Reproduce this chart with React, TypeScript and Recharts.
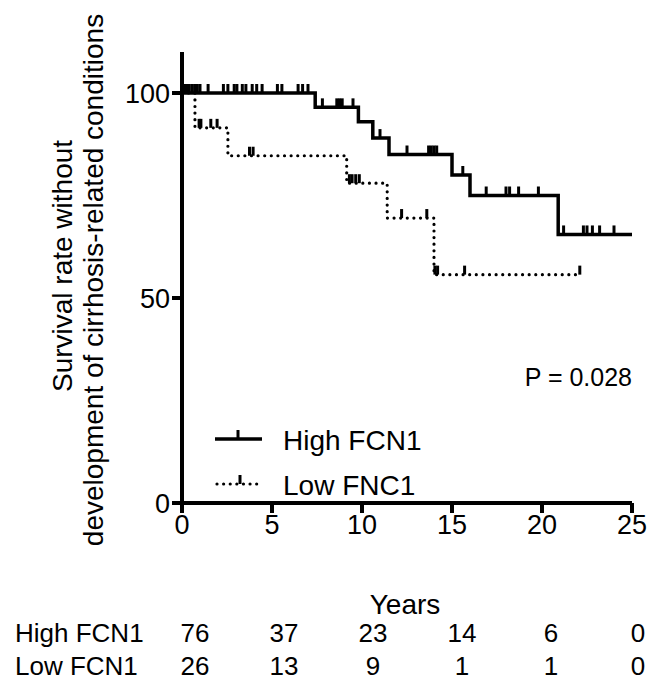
import React from "react";
import { ComposedChart, Line, Scatter, XAxis, YAxis } from "recharts";

// Kaplan-Meier steps: [time (years), survival %]
const highSteps: [number, number][] = [
  [0, 100], [7.4, 96.5], [9.8, 93], [10.6, 89], [11.5, 85],
  [15.0, 80], [16.0, 75], [20.9, 65.5], [25.1, 65.5],
];
const lowSteps: [number, number][] = [
  [0, 100], [0.72, 91.5], [2.55, 84.7], [9.15, 78], [11.4, 69.5],
  [14.0, 55.7], [22.1, 55.7],
];

// censored observations (years)
const highCensored = [
  0.1, 0.25, 0.4, 0.55, 0.7, 0.85, 1.0, 1.45, 2.3, 2.55, 2.9, 3.05, 3.35, 3.55,
  3.9, 4.15, 4.45, 5.3, 5.55, 6.45, 6.7, 7.0, 7.8, 8.6, 8.75, 8.9, 9.5, 11.0,
  12.5, 13.7, 13.85, 14.0, 14.15, 15.6, 16.9, 18.0, 18.2, 18.7, 19.8, 21.2,
  22.3, 22.5, 22.8, 23.2, 24.0,
];
const lowCensored = [
  0.95, 1.05, 1.6, 1.95, 3.75, 3.95, 9.3, 9.45, 9.65, 9.85, 12.2, 13.6, 14.05,
  14.2, 15.7, 22.1,
];

const xTicks = [0, 5, 10, 15, 20, 25];
const yTicks = [0, 50, 100];

const riskGroups = ["High FCN1", "Low FCN1"];
const highAtRisk = [76, 37, 23, 14, 6, 0];
const lowAtRisk = [26, 13, 9, 1, 1, 0];

const FONT = "'Liberation Sans', Arial, Helvetica, sans-serif";

const toRows = (steps: [number, number][]) => steps.map(([t, s]) => ({ t, s }));

// survival level at a given time, looked up from the step curve
const levelAt = (steps: [number, number][], t: number) => {
  let s = steps[0][1];
  for (const [st, sv] of steps) if (st <= t) s = sv;
  return s;
};

const censorRows = (steps: [number, number][], times: number[]) =>
  times.map((t) => ({ t, s: levelAt(steps, t) }));

const CensorMark = (props: any) => {
  const { cx, cy } = props;
  if (cx == null || cy == null) return null;
  return <line x1={cx} y1={cy} x2={cx} y2={cy - 9} stroke="#000" strokeWidth={3} />;
};

// risk table columns (centres in px)
const riskX = [195, 284, 373, 462, 551, 638];

export default function App() {
  return (
    <div style={{ position: "absolute", left: 0, top: 0, width: 649, height: 681, background: "#fff", fontFamily: FONT }}>
      <ComposedChart
        width={649}
        height={560}
        margin={{ top: 52, right: 17, left: 122, bottom: 17 }}
      >
        <XAxis
          type="number"
          dataKey="t"
          domain={[0, 25]}
          ticks={xTicks}
          allowDataOverflow
          height={40}
          tickSize={10}
          axisLine={{ stroke: "#000", strokeWidth: 4 }}
          tickLine={{ stroke: "#000", strokeWidth: 4 }}
          tick={{ fill: "#000", fontSize: 27, fontFamily: FONT }}
        />
        <YAxis
          type="number"
          dataKey="s"
          domain={[0, 110]}
          ticks={yTicks}
          width={60}
          tickSize={10}
          tickMargin={2}
          axisLine={{ stroke: "#000", strokeWidth: 4 }}
          tickLine={{ stroke: "#000", strokeWidth: 4 }}
          tick={{ fill: "#000", fontSize: 27, fontFamily: FONT }}
        />
        <Line
          data={toRows(highSteps)}
          dataKey="s"
          type="stepAfter"
          stroke="#000"
          strokeWidth={3.5}
          dot={false}
          isAnimationActive={false}
        />
        <Line
          data={toRows(lowSteps)}
          dataKey="s"
          type="stepAfter"
          stroke="#000"
          strokeWidth={3.2}
          strokeDasharray="0.01 6.6"
          strokeLinecap="round"
          dot={false}
          isAnimationActive={false}
        />
        <Scatter data={censorRows(highSteps, highCensored)} dataKey="s" shape={CensorMark} isAnimationActive={false} />
        <Scatter data={censorRows(lowSteps, lowCensored)} dataKey="s" shape={CensorMark} isAnimationActive={false} />
      </ComposedChart>

      <svg
        width={649}
        height={681}
        style={{ position: "absolute", left: 0, top: 0, pointerEvents: "none" }}
        fontFamily={FONT}
        fill="#000"
      >
        {/* y axis title */}
        <text transform="translate(62,266) rotate(-90)" textAnchor="middle" dominantBaseline="central" fontSize={28}>
          Survival rate without
        </text>
        <text transform="translate(93,280) rotate(-90)" textAnchor="middle" dominantBaseline="central" fontSize={28}>
          development of cirrhosis-related conditions
        </text>

        {/* legend */}
        <line x1={215} y1={439} x2={262} y2={439} stroke="#000" strokeWidth={3.5} />
        <line x1={238} y1={439} x2={238} y2={430} stroke="#000" strokeWidth={3} />
        <text x={283} y={450} fontSize={28}>High FCN1</text>
        <line x1={217} y1={484} x2={262} y2={484} stroke="#000" strokeWidth={3.2} strokeDasharray="0.01 6.6" strokeLinecap="round" />
        <line x1={240} y1={484} x2={240} y2={475} stroke="#000" strokeWidth={3} />
        <text x={283} y={495} fontSize={28}>Low FNC1</text>

        <text x={632} y={386} textAnchor="end" fontSize={25}>P = 0.028</text>

        <text x={405} y={614} textAnchor="middle" fontSize={28}>Years</text>

        {/* numbers at risk */}
        <text x={15} y={642} fontSize={26}>{riskGroups[0]}</text>
        <text x={15} y={675} fontSize={26}>{riskGroups[1]}</text>
        {highAtRisk.map((n, i) => (
          <text key={"h" + i} x={riskX[i]} y={642} textAnchor="middle" fontSize={26}>{n}</text>
        ))}
        {lowAtRisk.map((n, i) => (
          <text key={"l" + i} x={riskX[i]} y={675} textAnchor="middle" fontSize={26}>{n}</text>
        ))}
      </svg>
    </div>
  );
}
